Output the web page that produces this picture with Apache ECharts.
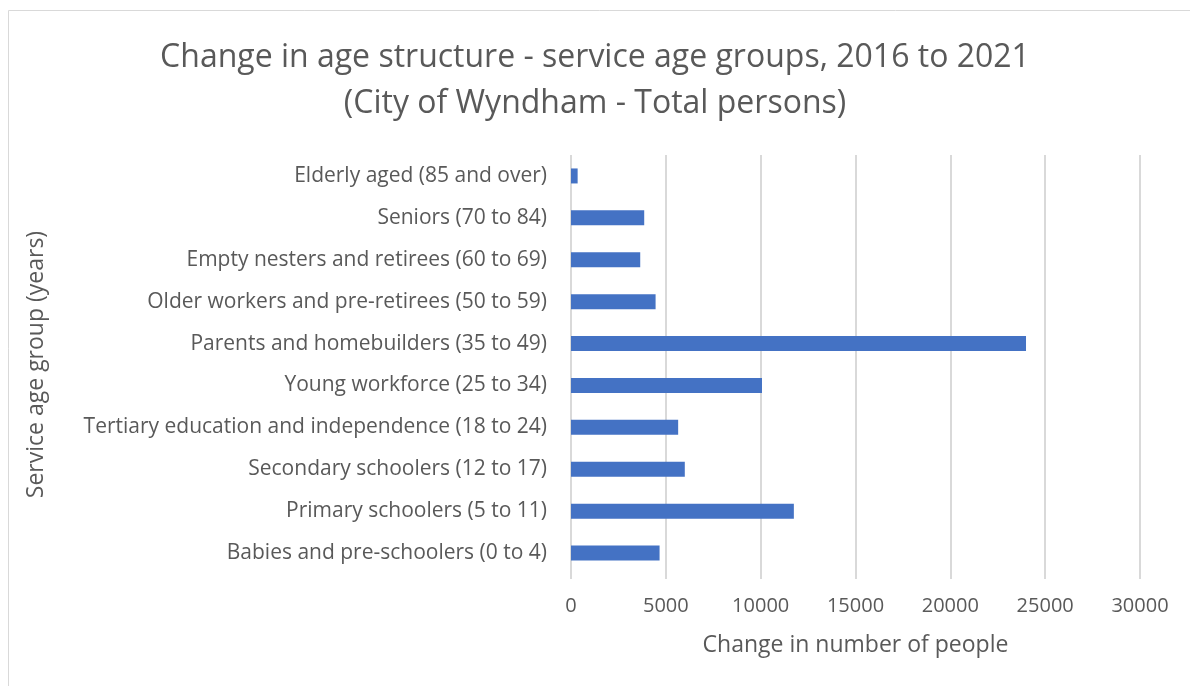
<!DOCTYPE html>
<html lang="en">
<head>
    <meta charset="UTF-8">
    <title>Change in age structure - service age groups</title>
    <script src="https://cdn.jsdelivr.net/npm/echarts@6.0.0/dist/echarts.min.js"></script>
    <style>
        html, body { margin: 0; padding: 0; background: #fff; }
    </style>
</head>
<body>
    <div id="chart" style="width: 1190px; height: 686px;"></div>

    <script>
        // grupos de idade, de cima para baixo
        var grupos = [
            'Elderly aged (85 and over)',
            'Seniors (70 to 84)',
            'Empty nesters and retirees (60 to 69)',
            'Older workers and pre-retirees (50 to 59)',
            'Parents and homebuilders (35 to 49)',
            'Young workforce (25 to 34)',
            'Tertiary education and independence (18 to 24)',
            'Secondary schoolers (12 to 17)',
            'Primary schoolers (5 to 11)',
            'Babies and pre-schoolers (0 to 4)'
        ];
        var variacao = [350, 3860, 3650, 4460, 23990, 10070, 5650, 6000, 11750, 4670];

        var fonte = '"Open Sans", sans-serif';
        var cinza = '#595959';

        var chart = echarts.init(document.getElementById('chart'));

        chart.setOption({
            textStyle: { fontFamily: fonte },
            title: {
                text: 'Change in age structure - service age groups, 2016 to 2021\n(City of Wyndham - Total persons)',
                left: 'center',
                top: 30,
                textStyle: {
                    fontFamily: fonte,
                    fontSize: 32,
                    fontWeight: 'normal',
                    color: cinza,
                    lineHeight: 46
                }
            },
            graphic: [{
                type: 'rect',
                shape: { x: 8.5, y: 10.5, width: 1200, height: 700 },
                style: { fill: 'none', stroke: '#d9d9d9', lineWidth: 1 },
                silent: true
            }],
            grid: {
                left: 571,
                right: 50,
                top: 155,
                bottom: 112
            },
            xAxis: {
                type: 'value',
                min: 0,
                max: 30000,
                interval: 5000,
                name: 'Change in number of people',
                nameLocation: 'middle',
                nameGap: 60,
                nameTextStyle: { fontSize: 23, color: cinza },
                axisLine: { show: false },
                axisTick: { show: true, length: 5, lineStyle: { color: '#d9d9d9', width: 2 } },
                axisLabel: {
                    fontSize: 20,
                    color: cinza,
                    margin: 22,
                    formatter: function (v) { return String(v); }
                },
                splitLine: { lineStyle: { color: '#d9d9d9', width: 2 } }
            },
            yAxis: {
                type: 'category',
                data: grupos,
                inverse: true,
                name: 'Service age group (years)',
                nameLocation: 'middle',
                nameGap: 523,
                nameTextStyle: { fontSize: 23, color: cinza },
                axisLine: { show: false },
                axisTick: { show: false },
                axisLabel: { fontSize: 21, color: cinza, margin: 24 }
            },
            series: [{
                type: 'bar',
                data: variacao,
                barWidth: 15,
                itemStyle: { color: '#4472c4' }
            }]
        });
    </script>
</body>
</html>
